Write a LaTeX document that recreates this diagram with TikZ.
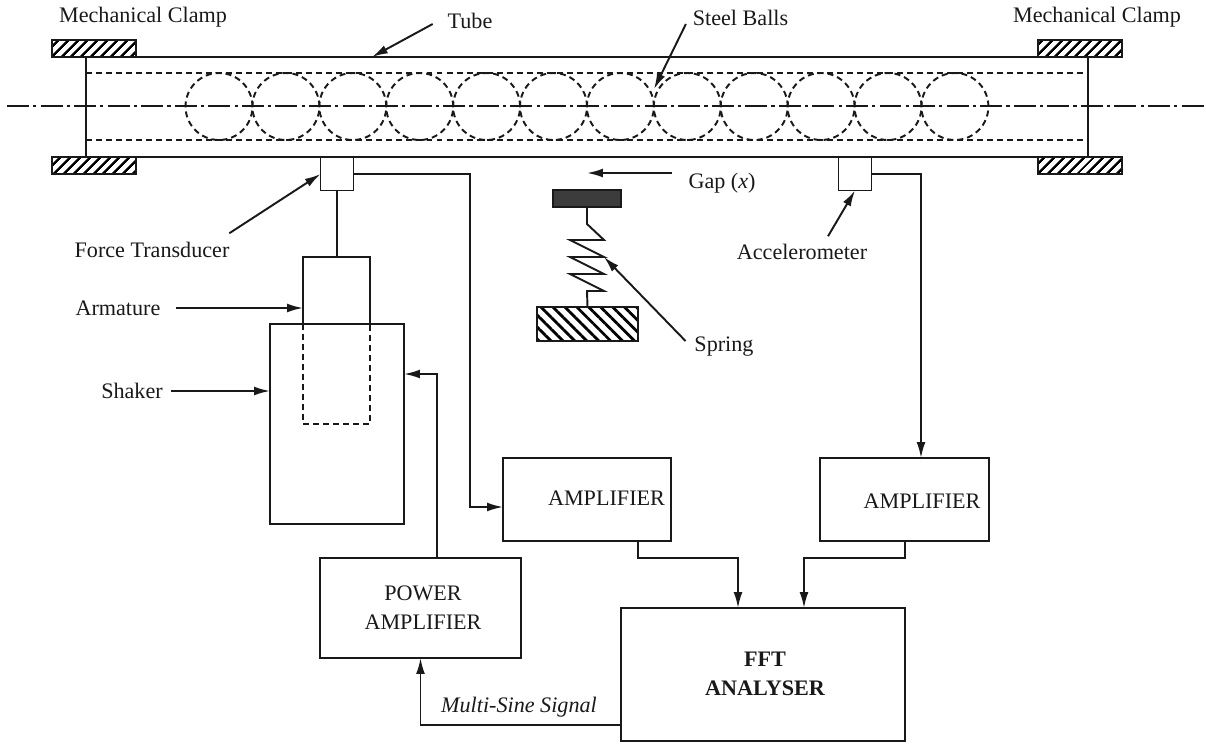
\documentclass[tikz,border=0pt]{standalone}
\usepackage{fontspec}
\setmainfont{Liberation Serif}
\usetikzlibrary{positioning}
\usetikzlibrary{calc}
\usetikzlibrary{arrows.meta}
\usetikzlibrary{patterns.meta}
\definecolor{darkblock}{RGB}{60,60,60}
\definecolor{inkline}{RGB}{25,25,25}
\tikzset{
    box/.style={draw=inkline, line width=1.1pt, inner sep=0pt, outer sep=0pt},
    clamp/.style={box, minimum width=1.68cm, minimum height=0.34cm, pattern={Lines[angle=45,distance=4pt,line width=1.4pt]}},
    lbl/.style={inner sep=0pt, text=inkline, font=\fontsize{12.6}{15}\selectfont, align=center},
    hidden/.style={line width=1.1pt, dash pattern=on 3.4pt off 2.3pt},
    axisline/.style={line width=1.1pt, dash pattern=on 12.5pt off 2.4pt on 1.8pt off 2.4pt},
    wire/.style={line width=1.1pt},
}
\begin{document}
\begin{tikzpicture}[x=0.02cm, y=-0.02cm, >={Latex[length=9pt,width=5pt]}, line width=1.1pt, draw=inkline]
    \useasboundingbox (0,0) rectangle (1206,744);
    % Tube and clamps
    \node[box, minimum width=20.04cm, minimum height=2cm] (tube) at (587,107) {};
    \node[clamp] (clampTL) at (94,48.5) {};
    \node[clamp] (clampBL) at (94,165.5) {};
    \node[clamp] (clampTR) at (1080,48.5) {};
    \node[clamp] (clampBR) at (1080,165.5) {};
    \draw[hidden] (86,73) -- (1085,73);
    \draw[hidden] (86,140) -- (1085,140);
    \draw[axisline] (7,106) -- (1204,106);
    % Balls
    \foreach \n in {0,...,11}
        \draw[hidden] ({219+66.9*\n},106.5) circle (0.67cm);
    % Sensors
    \node[box, minimum size=0.66cm] (force) at (337,174) {};
    \node[box, minimum size=0.66cm] (accel) at (855,174) {};
    % Shaker
    \node[box, minimum width=1.34cm, minimum height=1.34cm] (armature) at (336.5,290.5) {};
    \node[box, minimum width=2.68cm, minimum height=4cm] (shaker) at (337,424) {};
    \draw[hidden] (armature.south west) -- ++(0,100) -| (armature.south east);
    \draw[wire] (force.south) -- (force.south |- armature.north);
    % Spring
    \coordinate (springTip) at (604,257);
    \node[box, fill=darkblock, minimum width=1.36cm, minimum height=0.34cm] (block) at (587,198.5) {};
    \node[box, minimum width=2.02cm, minimum height=0.68cm, pattern={Lines[angle=-45,distance=4.8pt,line width=1.6pt]}] (base) at (587.5,324) {};
    \draw[wire] (block.south) -- ++(0,17) -- (604,240) -- (570,240) -- (springTip) -- (570,257) -- (604,274) -- (570,274) -- (604,291) -- (587,291) -- (base.north);
    % Electronics
    \node[box, minimum width=3.36cm, minimum height=1.66cm] (ampL) at (587,499.5) {};
    \node[box, minimum width=3.38cm, minimum height=1.66cm] (ampR) at (904.5,499.5) {};
    \node[box, minimum width=4.02cm, minimum height=2cm] (power) at (420.5,608) {};
    \node[box, minimum width=5.68cm, minimum height=2.66cm] (fft) at (763,674.5) {};
    \node[lbl] (ampLText) at (606.5,498) {AMPLIFIER};
    \node[lbl] (ampRText) at (922,501) {AMPLIFIER};
    \node[lbl] (powerText) at (423,607.5) {POWER\\[1.5pt]AMPLIFIER};
    \node[lbl, font=\fontsize{12.6}{15}\selectfont\bfseries] (fftText) at (765,674) {FFT\\[1.5pt]ANALYSER};
    % Signal paths
    \coordinate (bendF) at (470,507);
    \coordinate (bendA) at (921,174);
    \draw[wire,->] (force.east) -| (bendF) -- (ampL.west |- bendF);
    \draw[wire,->] (accel.east) -- (bendA) -- (bendA |- ampR.north);
    \draw[wire,->] (power.north -| 437,0) -- (437,374) -- (shaker.east |- 0,374);
    \draw[wire,->] ($(ampL.south)+(51,0)$) |- ($(fft.north)+(-25,-50)$) -- ($(fft.north)+(-25,0)$);
    \draw[wire,->] ($(ampR.south)+(0.5,0)$) |- ($(fft.north)+(41,-50)$) -- ($(fft.north)+(41,0)$);
    \draw[wire,->] (fft.west |- 0,725) -| (power.south);
    \node[lbl, font=\fontsize{12.6}{15}\selectfont\itshape] (signal) at (519,707) {Multi-Sine Signal};
    % Labels
    \node[lbl] (clampLabelL) at (143,17) {Mechanical Clamp};
    \node[lbl] (clampLabelR) at (1097,17) {Mechanical Clamp};
    \node[lbl] (tubeLabel) at (470,21) {Tube};
    \node[lbl] (ballsLabel) at (740.5,18) {Steel Balls};
    \node[lbl] (gapLabel) at (722,183) {Gap (\textit{x})};
    \node[lbl] (forceLabel) at (152,250) {Force Transducer};
    \node[lbl] (accelLabel) at (802,252) {Accelerometer};
    \node[lbl] (armatureLabel) at (118,308) {Armature};
    \node[lbl] (shakerLabel) at (132,391) {Shaker};
    \node[lbl] (springLabel) at (724,347) {Spring};
    % Leaders
    \coordinate (tubeTip) at (372,57);
    \coordinate (ballsTip) at (654,89);
    \coordinate (gapStart) at (672,173);
    \coordinate (gapTip) at (587,173);
    \draw[wire,->] ($(tubeLabel.west)+(-14,3)$) -- (tubeTip);
    \draw[wire,->] ($(ballsLabel.west)+(-6,6)$) -- (ballsTip);
    \draw[wire,->] ($(forceLabel.north east)+(-1,-8)$) -- (force.west);
    \draw[wire,->] ($(accelLabel.north)+(26,-7)$) -- (accel.south);
    \draw[wire,->] ($(armatureLabel.east)+(15,0)$) -- (armature.west |- armatureLabel);
    \draw[wire,->] ($(shakerLabel.east)+(7,0)$) -- (shaker.west |- shakerLabel);
    \draw[wire,->] (gapStart) -- (gapTip);
    \draw[wire,->] ($(springLabel.west)+(-8,-6)$) -- (springTip);
\end{tikzpicture}
\end{document}
